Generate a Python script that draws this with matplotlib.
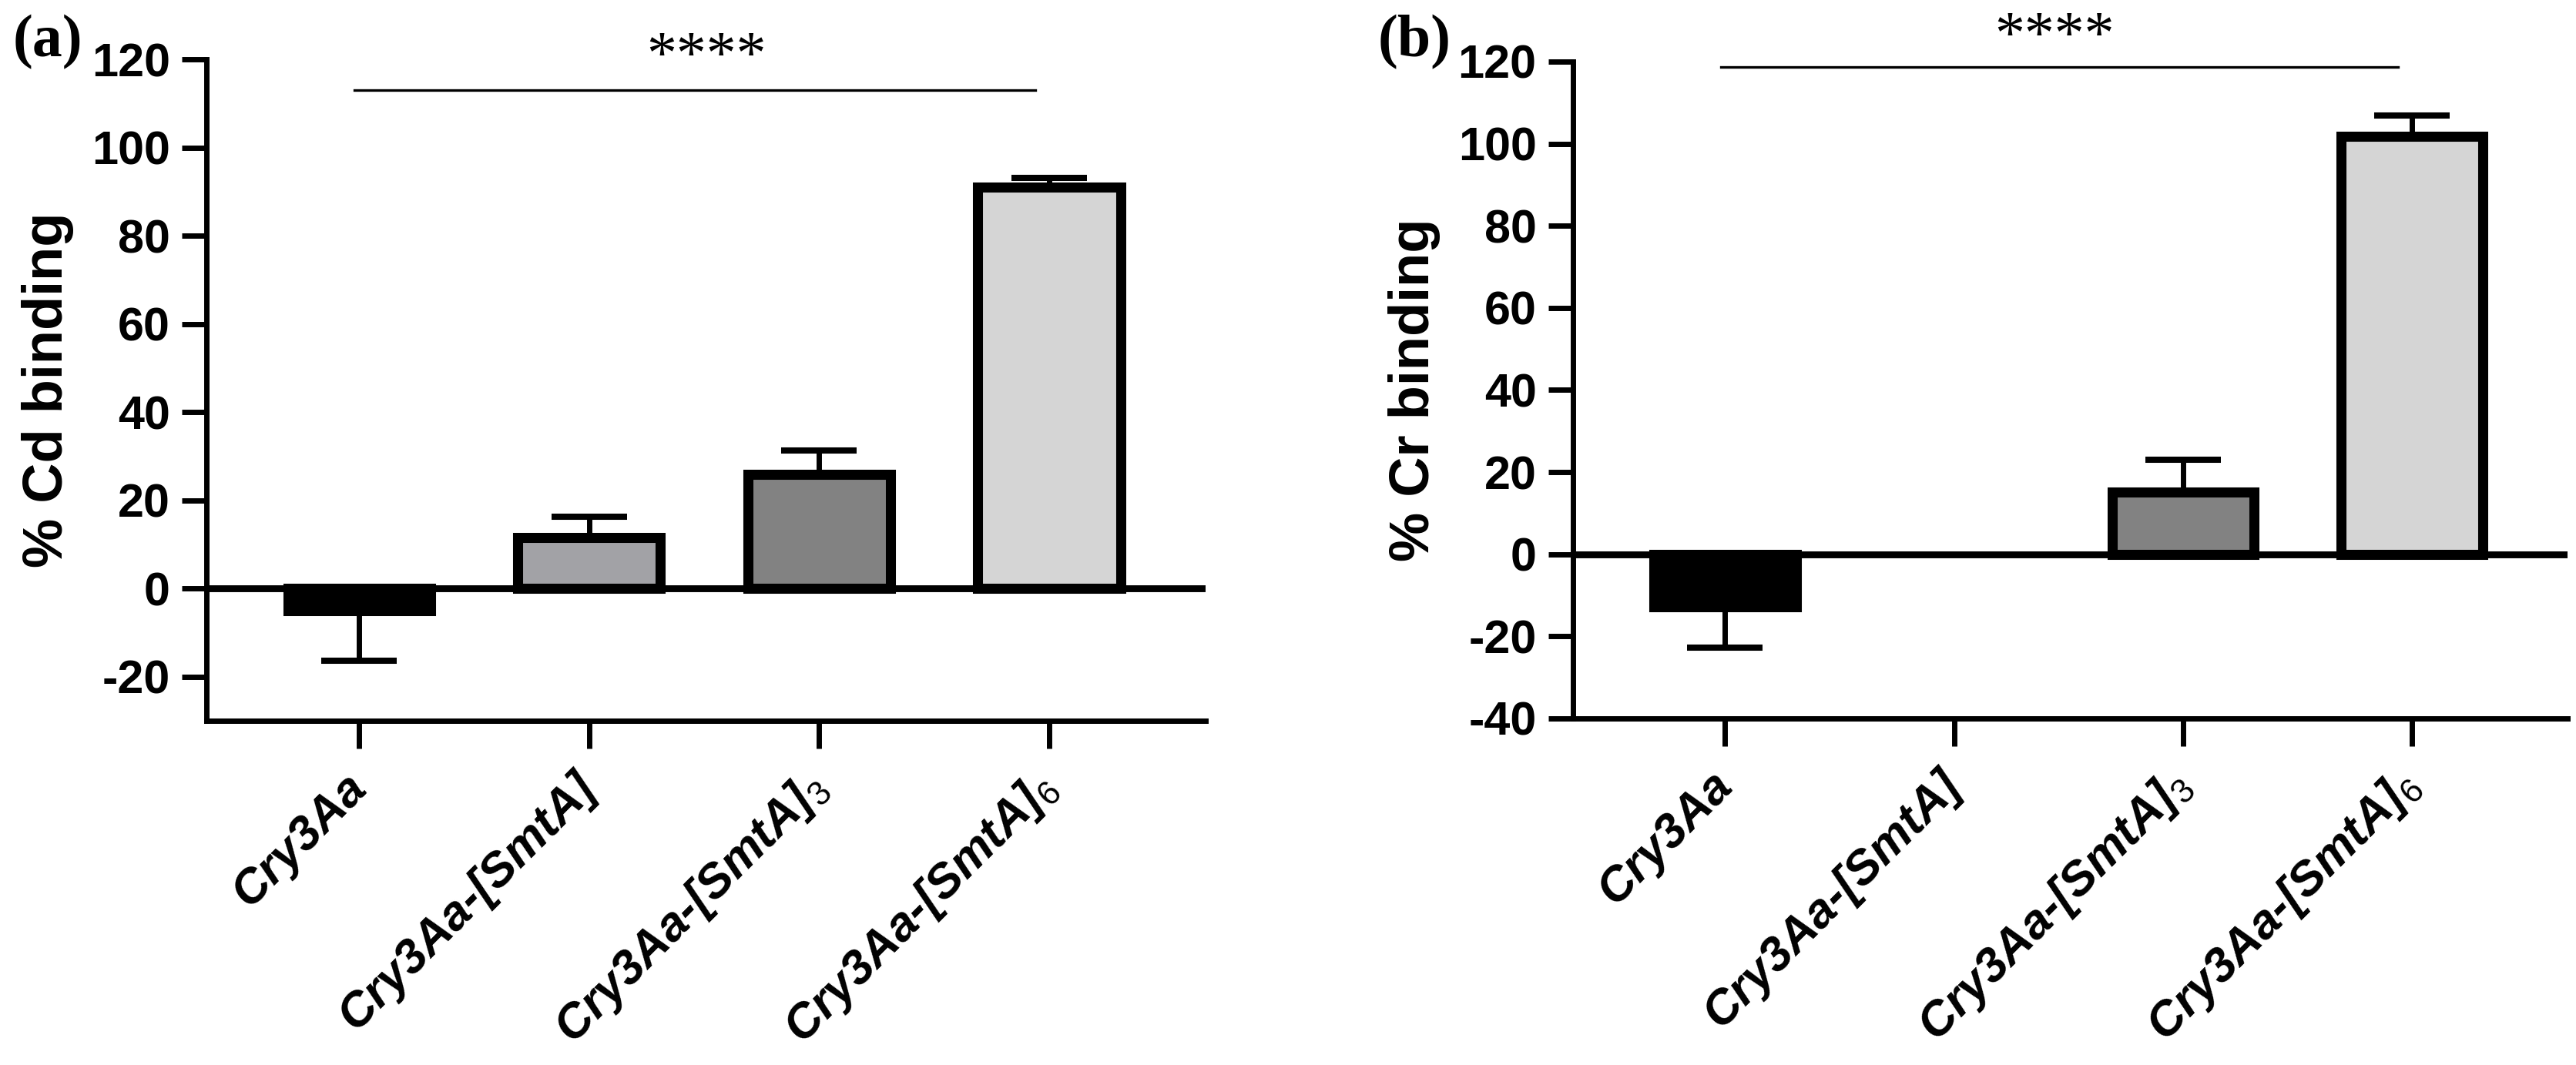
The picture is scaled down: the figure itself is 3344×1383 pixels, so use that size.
import numpy as np
import matplotlib
matplotlib.use("Agg")
import matplotlib.pyplot as plt

plt.rcParams['font.family'] = ['Liberation Sans', 'DejaVu Sans']
plt.rcParams['mathtext.fontset'] = 'custom'
plt.rcParams['mathtext.rm'] = 'Liberation Sans'
plt.rcParams['axes.unicode_minus'] = False

# data
groups = ['Cry3Aa', 'Cry3Aa-[SmtA]', r'Cry3Aa-[SmtA]$_\mathrm{3}$', r'Cry3Aa-[SmtA]$_\mathrm{6}$']
bar_colors = ['#000000', '#a2a2a6', '#828282', '#d5d5d5']

cd_mean = [-5.0, 11.5, 25.8, 91.0]
cd_err = [11.3, 4.8, 5.5, 2.2]

cr_mean = [-12.8, np.nan, 15.2, 101.8]
cr_err = [10.0, np.nan, 7.9, 5.0]

panels = [
    dict(tag='(a)', mean=cd_mean, err=cd_err, ylabel='% Cd binding',
         ylim=(-30, 120), yticks=[-20, 0, 20, 40, 60, 80, 100, 120],
         sig_y=113, star_y=120.3, star_x=1.51, rect=[0.0801, 0.3232, 0.3879, 0.6211],
         tag_x=0.005),
    dict(tag='(b)', mean=cr_mean, err=cr_err, ylabel='% Cr binding',
         ylim=(-40, 120), yticks=[-40, -20, 0, 20, 40, 60, 80, 100, 120],
         sig_y=118.7, star_y=125.8, star_x=1.44, rect=[0.6106, 0.3254, 0.3861, 0.6168],
         tag_x=0.535),
]

fig = plt.figure(figsize=(16.72, 6.915), dpi=200)

for p in panels:
    ax = fig.add_axes(p['rect'])
    x = np.arange(len(groups))
    mean = np.array(p['mean'], dtype=float)
    err = np.array(p['err'], dtype=float)
    lower = np.where(mean < 0, err, 0)
    upper = np.where(mean >= 0, err, 0)

    ax.axhline(0, color='black', lw=3.2, zorder=1)
    ax.errorbar(x, mean, yerr=[lower, upper], fmt='none', ecolor='black',
                elinewidth=2.5, capsize=17.6, capthick=2.9, zorder=2)
    ax.bar(x, mean, width=0.62, color=bar_colors, edgecolor='black', lw=4.7, zorder=3)

    ax.set_xlim(-0.665, 3.68)
    ax.set_ylim(*p['ylim'])
    ax.set_yticks(p['yticks'])
    ax.set_xticks(x)
    ax.set_xticklabels(groups, rotation=45, ha='right', va='center', rotation_mode='anchor',
                       fontsize=22.5, fontweight='bold', fontstyle='italic')
    for lab in ax.get_yticklabels():
        lab.set_fontweight('bold')
    ax.tick_params(axis='y', labelsize=22, width=2.5, length=11.5, pad=5.5)
    ax.tick_params(axis='x', width=2.5, length=13, pad=15)
    ax.set_ylabel(p['ylabel'], fontsize=26, fontweight='bold', labelpad=8)

    for side in ['top', 'right']:
        ax.spines[side].set_visible(False)
    for side in ['left', 'bottom']:
        ax.spines[side].set_linewidth(2.5)

    # significance bar
    ax.plot([-0.02, 2.94], [p['sig_y'], p['sig_y']], color='black', lw=1.2, clip_on=False)
    ax.text(p['star_x'], p['star_y'], '****', ha='center', va='center',
            fontsize=28, family='Liberation Serif', clip_on=False)

    fig.text(p['tag_x'], 0.986, p['tag'], ha='left', va='top', fontsize=28,
             fontweight='bold', family='Liberation Serif')

fig.savefig('out.png', dpi=200)
